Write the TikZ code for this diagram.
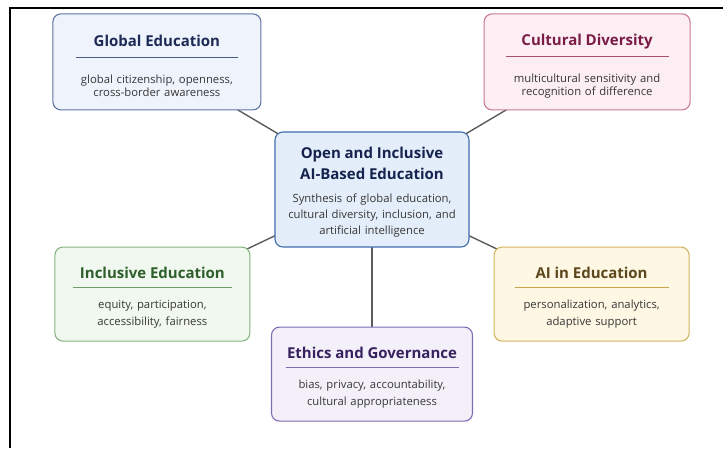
\documentclass[tikz,border=0pt]{standalone}
\usepackage{fontspec}
\setmainfont{Open Sans}
\usepackage{xcolor}
\usetikzlibrary{positioning,backgrounds}

\definecolor{globfill}{HTML}{EEF3FC}
\definecolor{globline}{HTML}{5F74A3}
\definecolor{globtitle}{HTML}{1E2A56}
\definecolor{globrule}{HTML}{4B5B86}
\definecolor{cultfill}{HTML}{FCEEF2}
\definecolor{cultline}{HTML}{C97A91}
\definecolor{culttitle}{HTML}{7A1C46}
\definecolor{cultrule}{HTML}{A8506C}
\definecolor{corefill}{HTML}{E4EEFA}
\definecolor{coreline}{HTML}{3F6EAE}
\definecolor{coretitle}{HTML}{15234E}
\definecolor{inclfill}{HTML}{F1F8EF}
\definecolor{inclline}{HTML}{86B581}
\definecolor{incltitle}{HTML}{2E5E2B}
\definecolor{inclrule}{HTML}{6F9C69}
\definecolor{aifill}{HTML}{FDF7E3}
\definecolor{ailine}{HTML}{D2B560}
\definecolor{aititle}{HTML}{5C481C}
\definecolor{airule}{HTML}{C7A64C}
\definecolor{ethfill}{HTML}{F3F0FA}
\definecolor{ethline}{HTML}{7E6CB0}
\definecolor{ethtitle}{HTML}{38215F}
\definecolor{ethrule}{HTML}{7E6CB0}
\definecolor{desctext}{HTML}{363636}
\definecolor{linkgray}{HTML}{5C5C5C}

\begin{document}
\begin{tikzpicture}[x=1pt, y=1pt,
  topic/.style={draw, rounded corners=8pt, line width=1.1pt, inner sep=0pt,
    align=center, text width=190pt, text=desctext},
  toprow/.style={topic, minimum height=96pt, font=\fontsize{11.3}{13}\selectfont},
  lowrow/.style={topic, minimum height=94pt, font=\fontsize{11.3}{16.5}\selectfont},
  link/.style={draw=linkgray, line width=1.4pt}]
  \useasboundingbox (0,0) rectangle (723,448);

  % frame
  \draw[line width=1.8pt] (10,0) -- (10,440) -- (723,440);

  \node[topic, fill=corefill, draw=coreline, minimum width=194pt, minimum height=115pt,
    font=\fontsize{11.3}{16}\selectfont] (core) at (372,258.5)
    {\rule{0pt}{16pt}{\fontsize{15}{18}\selectfont\bfseries\color{coretitle}Open and Inclusive\\[5pt]AI-Based Education}\\[7pt]
     Synthesis of global education,\\cultural diversity, inclusion, and\\artificial intelligence};

  \node[toprow, fill=globfill, draw=globline, minimum width=208pt,
    above left=21pt and 13pt of core] (global)
    {\rule{0pt}{20pt}{\fontsize{15}{18}\selectfont\bfseries\color{globtitle}Global Education}\\[-2pt]
     {\color{globrule}\rule{162pt}{1pt}}\\[13pt]
     global citizenship, openness,\\cross-border awareness};

  \node[toprow, fill=cultfill, draw=cultline, minimum width=206pt,
    above right=21pt and 14pt of core] (cultural)
    {\rule{0pt}{20pt}{\fontsize{15}{18}\selectfont\bfseries\color{culttitle}Cultural Diversity}\\[-2pt]
     {\color{cultrule}\rule{163pt}{1pt}}\\[13pt]
     multicultural sensitivity and\\recognition of difference};

  \node[lowrow, fill=inclfill, draw=inclline, minimum width=195pt,
    below left=-1pt and 24pt of core] (inclusive)
    {\rule{0pt}{18pt}{\fontsize{15}{18}\selectfont\bfseries\color{incltitle}Inclusive Education}\\[-6.5pt]
     {\color{inclrule}\rule{159pt}{1pt}}\\[4pt]
     equity, participation,\\accessibility, fairness};

  \node[lowrow, fill=aifill, draw=ailine, minimum width=195pt,
    below right=-1pt and 24pt of core] (aiedu)
    {\rule{0pt}{18pt}{\fontsize{15}{18}\selectfont\bfseries\color{aititle}AI in Education}\\[-6.5pt]
     {\color{airule}\rule{154pt}{1pt}}\\[4pt]
     personalization, analytics,\\adaptive support};

  \node[lowrow, fill=ethfill, draw=ethline, minimum width=201pt,
    below=79pt of core] (ethics)
    {\rule{0pt}{18pt}{\fontsize{15}{18}\selectfont\bfseries\color{ethtitle}Ethics and Governance}\\[-6.5pt]
     {\color{ethrule}\rule{173pt}{1pt}}\\[4pt]
     bias, privacy, accountability,\\cultural appropriateness};

  \begin{scope}[on background layer]
    \draw[link] (global.center) -- (core.center);
    \draw[link] (cultural.center) -- (core.center);
    \draw[link] (inclusive.center) -- (core.center);
    \draw[link] (aiedu.center) -- (core.center);
    \draw[link] (ethics.center) -- (core.center);
  \end{scope}
\end{tikzpicture}
\end{document}
